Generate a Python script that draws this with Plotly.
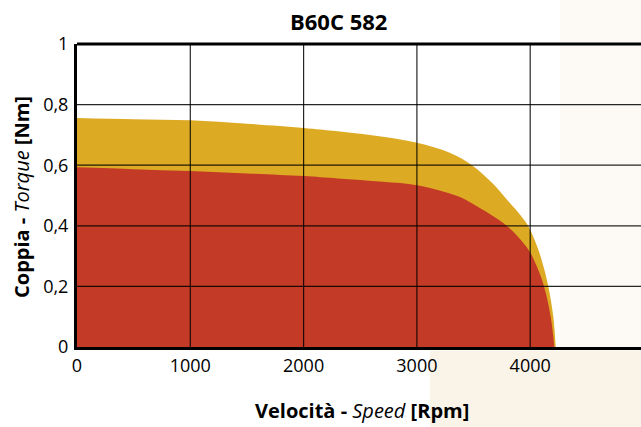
import plotly.graph_objects as go

# Data
speed_max = [0, 500, 1000, 1500, 2000, 2300, 2700, 3000, 3290, 3483, 3660, 3792, 3925, 3983, 4071, 4116, 4160, 4204, 4225]
torque_max = [0.756, 0.752, 0.748, 0.737, 0.723, 0.712, 0.694, 0.674, 0.641, 0.601, 0.543, 0.488, 0.430, 0.399, 0.322, 0.267, 0.2, 0.10, 0.0]
speed_cont = [0, 500, 1000, 1500, 2000, 2300, 2700, 3000, 3290, 3380, 3500, 3650, 3800, 3983, 4057, 4122, 4181, 4213]
torque_cont = [0.593, 0.587, 0.581, 0.573, 0.564, 0.556, 0.545, 0.534, 0.507, 0.495, 0.471, 0.437, 0.398, 0.322, 0.267, 0.2, 0.10, 0.0]

x_ticks = [0, 1000, 2000, 3000, 4000]
y_ticks = [0, 0.2, 0.4, 0.6, 0.8, 1]

YELLOW = "#DDAA24"
RED = "#C33A27"
FONT = "Open Sans"

W, H = 641, 427
# target plot area in window pixels
PL, PT, PB = 77, 44, 347
PX_PER_RPM = 113.3 / 1000
ML, MT, MR = PL, PT, 0
MB = H - PB
PW = W - ML - MR
PH = H - MT - MB
X_MAX = PW / PX_PER_RPM


def px(xw):
    return (xw - PL) / PW


def py(yw):
    return (PB - yw) / PH


fig = go.Figure()
fig.add_trace(go.Scatter(x=speed_max, y=torque_max, mode="lines", fill="tozeroy",
                         line=dict(color=YELLOW, width=0, shape="spline", smoothing=1.0),
                         fillcolor=YELLOW, hoverinfo="skip", showlegend=False))
fig.add_trace(go.Scatter(x=speed_cont, y=torque_cont, mode="lines", fill="tozeroy",
                         line=dict(color=RED, width=0, shape="spline", smoothing=1.0),
                         fillcolor=RED, hoverinfo="skip", showlegend=False))

shapes = []
# faint background image approximation
shapes.append(dict(type="rect", xref="paper", yref="paper", x0=px(560), x1=1.2,
                   y0=-0.4, y1=1.3, fillcolor="#FDFAF5", line=dict(width=0), layer="below"))
shapes.append(dict(type="rect", xref="paper", yref="paper", x0=px(430), x1=1.2,
                   y0=-0.4, y1=-0.012, fillcolor="#F9F3E8", line=dict(width=0), layer="below"))
# grid lines above the fills
for xv in x_ticks[1:]:
    shapes.append(dict(type="line", xref="x", yref="paper", x0=xv, x1=xv, y0=0, y1=1,
                       line=dict(color="rgba(0,0,0,0.85)", width=1.2), layer="above"))
for yv in y_ticks[1:-1]:
    shapes.append(dict(type="line", xref="paper", yref="y", x0=0, x1=1, y0=yv, y1=yv,
                       line=dict(color="rgba(0,0,0,0.85)", width=1.2), layer="above"))
# top border
shapes.append(dict(type="line", xref="paper", yref="paper", x0=0, x1=1, y0=1, y1=1,
                   line=dict(color="black", width=3), layer="above"))

annotations = [
    dict(text="<b>B60C 582</b>", xref="paper", yref="paper", x=px(338), y=py(21),
         xanchor="center", yanchor="middle", showarrow=False, font=dict(family=FONT, size=22)),
    dict(text="<b>Velocità - </b><i>Speed</i><b> [Rpm]</b>", xref="paper", yref="paper",
         x=px(362), y=py(411), xanchor="center", yanchor="middle",
         showarrow=False, font=dict(family=FONT, size=20)),
    dict(text="<b>Coppia - </b><i>Torque</i><b> [Nm]</b>", xref="paper", yref="paper",
         x=px(21), y=py(197), xanchor="center", yanchor="middle",
         textangle=-90, showarrow=False, font=dict(family=FONT, size=20)),
]

fig.update_layout(
    width=W, height=H,
    margin=dict(l=ML, r=MR, t=MT, b=MB, autoexpand=False),
    paper_bgcolor="white", plot_bgcolor="rgba(0,0,0,0)",
    separators=", ",
    font=dict(family=FONT, color="black", size=18),
    shapes=shapes,
    annotations=annotations,
    xaxis=dict(range=[0, X_MAX], tickvals=x_ticks, showgrid=False, zeroline=False,
               showline=True, linecolor="black", linewidth=3, layer="above traces",
               ticks="", ticklabelstandoff=0, tickfont=dict(size=18), automargin=False),
    yaxis=dict(range=[0, 1], tickvals=y_ticks, showgrid=False, zeroline=False,
               showline=True, linecolor="black", linewidth=3, layer="above traces",
               ticks="", ticklabelstandoff=2, tickfont=dict(size=18), automargin=False),
)

fig.write_html("out.html", config={"displayModeBar": False},
               post_script="document.body.style.margin='0';document.body.style.overflow='hidden';")
